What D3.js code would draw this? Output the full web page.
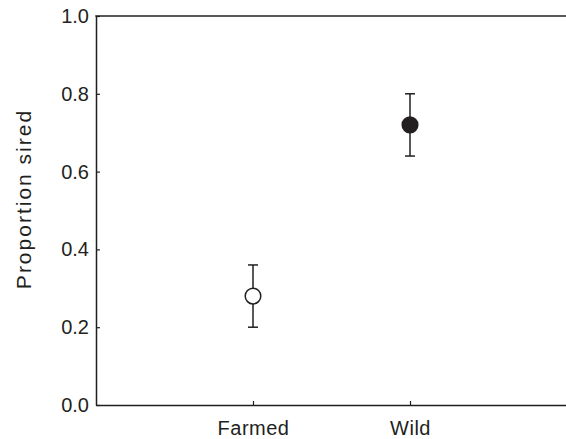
<!DOCTYPE html>
<html><head><meta charset="utf-8">
<script src="https://cdn.jsdelivr.net/npm/d3@7"></script>
<style>body{margin:0;background:#fff}svg{display:block}text{font-family:"Liberation Sans",Arial,sans-serif;fill:#231f20}</style>
</head><body>
<script>
const categories = ["Farmed", "Wild"];
const means = [0.28, 0.72];
const upper = [0.36, 0.80];
const lower = [0.20, 0.64];
const fills = ["#ffffff", "#231f20"];
const yTicks = [0, 0.2, 0.4, 0.6, 0.8, 1.0];

const W = 566, H = 439;
const m = {left: 96, top: 16, bottom: 34};
const svg = d3.select("body").append("svg").attr("width", W).attr("height", H);
const x = d3.scaleLinear().domain([0, 3]).range([m.left, m.left + 471]);
const y = d3.scaleLinear().domain([0, 1]).range([H - m.bottom, m.top]);
const ink = "#231f20";
const font = "Liberation Sans, Arial, sans-serif";

// y axis
const ya = svg.append("g").attr("transform", `translate(${m.left},0)`)
  .call(d3.axisLeft(y).tickValues(yTicks).tickFormat(d3.format(".1f")).tickSizeInner(-4).tickSizeOuter(0).tickPadding(7));
ya.select(".domain").attr("stroke", ink).attr("stroke-width", 1.5);
ya.selectAll(".tick line").attr("stroke", ink).attr("stroke-width", 1.2);
ya.selectAll("text").style("font-size", "20px").attr("fill", ink).style("font-family", font);

// x axis bottom
const xa = svg.append("g").attr("transform", `translate(0,${y(0)})`)
  .call(d3.axisBottom(x).tickValues([1, 2]).tickFormat((d, i) => categories[i]).tickSizeInner(-4).tickSizeOuter(0).tickPadding(16));
xa.select(".domain").attr("stroke", ink).attr("stroke-width", 1.5);
xa.selectAll(".tick line").attr("stroke", ink).attr("stroke-width", 1.2);
xa.selectAll("text").style("font-size", "20px").attr("fill", ink).style("font-family", font).style("letter-spacing", "0.5px");

// top line
svg.append("line").attr("x1", x(0) - 0.75).attr("x2", x(3)).attr("y1", y(1)).attr("y2", y(1))
  .attr("stroke", ink).attr("stroke-width", 1.5);

// y label
svg.append("text").attr("transform", `translate(31,199) rotate(-90)`)
  .attr("text-anchor", "middle").style("font-size", "21px").style("letter-spacing", "2px").text("Proportion sired");

// points
const g = svg.append("g");
categories.forEach((c, i) => {
  const cx = x(i + 1);
  g.append("line").attr("x1", cx).attr("x2", cx).attr("y1", y(upper[i])).attr("y2", y(lower[i])).attr("stroke", ink).attr("stroke-width", 1.5);
  [upper[i], lower[i]].forEach(v => g.append("line").attr("x1", cx - 5).attr("x2", cx + 5).attr("y1", y(v)).attr("y2", y(v)).attr("stroke", ink).attr("stroke-width", 1.5));
  g.append("circle").attr("cx", cx).attr("cy", y(means[i])).attr("r", 7.8).attr("fill", fills[i]).attr("stroke", ink).attr("stroke-width", 1.5);
});
</script>
</body></html>
